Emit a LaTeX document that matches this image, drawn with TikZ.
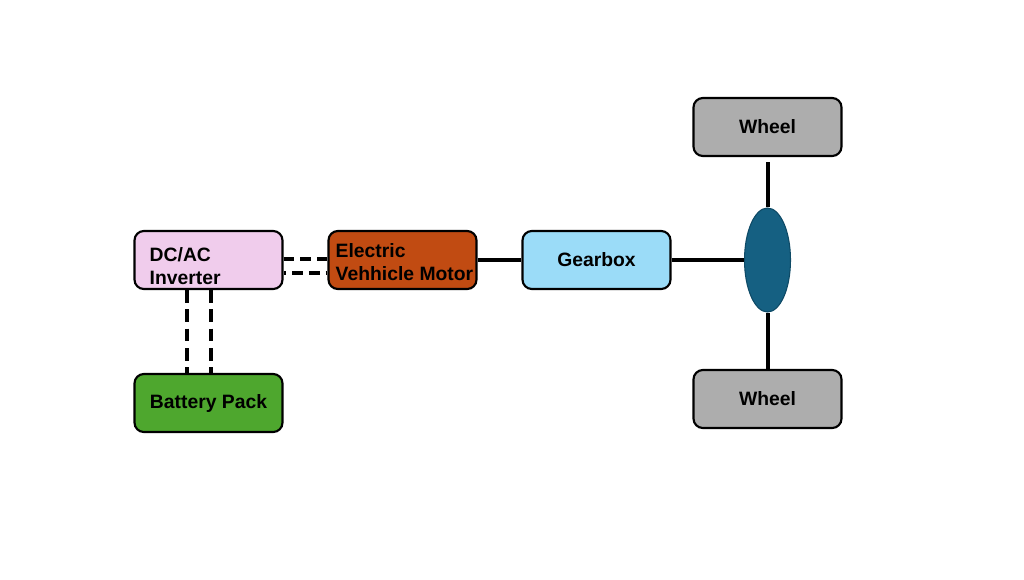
\documentclass[tikz,border=0pt]{standalone}
\usepackage{fontspec}
\setmainfont{Liberation Sans}
\usetikzlibrary{shapes.geometric}
\definecolor{invpink}{HTML}{F0CCEC}
\definecolor{motorbrown}{HTML}{C14B12}
\definecolor{gearblue}{HTML}{9BDCF8}
\definecolor{battgreen}{HTML}{4EA72E}
\definecolor{wheelgray}{HTML}{ADADAD}
\definecolor{diffblue}{HTML}{156082}
\definecolor{diffedge}{HTML}{0E4A66}
\tikzset{
  lbl/.style={font=\fontsize{14.5}{16.8}\selectfont\bfseries},
  blk/.style={draw=black, line width=1.6pt, rounded corners=7pt, minimum width=111pt, minimum height=43.5pt, inner sep=0pt, lbl},
  solidlink/.style={line width=3pt},
  dashlink/.style={line width=3pt, dash pattern=on 8pt off 4.5pt},
}
\begin{document}
\begin{tikzpicture}[x=0.75pt,y=-0.75pt]
\useasboundingbox (0,0) rectangle (1024,579);
\node[blk, fill=invpink] (inv) at (208.5,260) {};
\node[anchor=west, align=left, lbl] (invtxt) at (145,266) {DC/AC\\Inverter};
\node[blk, fill=motorbrown] (mot) at (402.5,260) {};
\node[anchor=west, align=left, lbl] (mottxt) at (331,262) {Electric\\Vehhicle Motor};
\node[blk, fill=gearblue] (gear) at (596.5,260) {Gearbox};
\node[blk, fill=battgreen] (bat) at (208.5,403) {Battery Pack};
\node[blk, fill=wheelgray] (w1) at (767.5,127) {Wheel};
\node[blk, fill=wheelgray] (w2) at (767.5,399) {Wheel};
\node[ellipse, draw=diffedge, line width=0.8pt, fill=diffblue, minimum width=34.5pt, minimum height=78pt, inner sep=0pt] (diff) at (767.5,260) {};
% dashed links inverter - motor
\draw[dashlink] (inv.east |- 0,259) -- (mot.west |- 0,259);
\draw[dashlink, dash phase=6pt] (inv.east |- 0,273) -- (mot.west |- 0,273);
% dashed links inverter - battery
\draw[dashlink, dash pattern=on 9.5pt off 5pt] (inv.south -| 187,0) -- (bat.north -| 187,0);
\draw[dashlink, dash pattern=on 9.5pt off 5pt] (inv.south -| 211,0) -- (bat.north -| 211,0);
% solid links
\draw[solidlink] (mot.east) -- (gear.west);
\draw[solidlink] (gear.east) -- (diff.west);
\draw[solidlink] (diff.north) -- ([yshift=-4pt]w1.south);
\draw[solidlink] (diff.south) -- (w2.north);
\end{tikzpicture}
\end{document}
